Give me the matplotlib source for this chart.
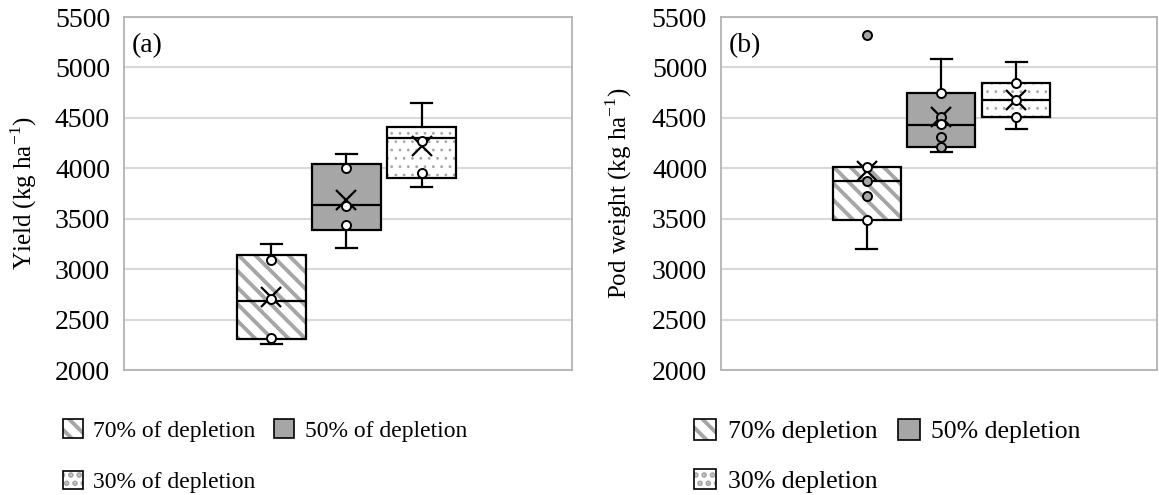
import matplotlib
matplotlib.use("Agg")
import matplotlib.pyplot as plt
from matplotlib.patches import Patch, PathPatch
from matplotlib.legend_handler import HandlerTuple

plt.rcParams['font.family'] = ['Liberation Serif', 'DejaVu Serif']
plt.rcParams['mathtext.fontset'] = 'custom'
plt.rcParams['mathtext.rm'] = 'Liberation Serif'
plt.rcParams['hatch.linewidth'] = 2.8

# irrigation treatments
labels_a = ['70% of depletion', '50% of depletion', '30% of depletion']
labels_b = ['70% depletion', '50% depletion', '30% depletion']

# (a) grain yield, kg/ha
yield_lo = [2259, 3210, 3817]
yield_q1 = [2308, 3392, 3906]
yield_med = [2689, 3634, 4297]
yield_q3 = [3137, 4045, 4413]
yield_hi = [3250, 4141, 4652]
yield_mean = [2729, 3690, 4220]
yield_points = [[3087, 2706, 2315], [4006, 3624, 3442], [4270, 3949]]
yield_outliers = [[], [], []]

# (b) pod weight, kg/ha
pod_lo = [3200, 4164, 4393]
pod_q1 = [3485, 4207, 4513]
pod_med = [3876, 4429, 4675]
pod_q3 = [4012, 4744, 4851]
pod_hi = [4012, 5082, 5059]
pod_mean = [3972, 4510, 4675]
pod_points = [[4012, 3876, 3723, 3492], [4744, 4513, 4436, 4310, 4210], [4851, 4680, 4513]]
pod_outliers = [[5321], [], []]

GREY = '#a6a6a6'
LW = 1.6
positions = [-1, 0, 1]
fills = ['white', GREY, 'white']
hatches = ['\\\\', None, '..']

# inner point face colours for (b); (a) uses white throughout
pod_point_faces = [['white', GREY, GREY, 'white'],
                   ['white', GREY, 'white', GREY, GREY],
                   ['white', 'white', 'white']]


def hatch_patch(path_or_none, hatch, **kw):
    # grey hatch layer; dots get a thin stroke, stripes a thick one
    if path_or_none is None:
        p = Patch(facecolor='white', edgecolor=GREY, lw=0, hatch=hatch, **kw)
    else:
        p = PathPatch(path_or_none, facecolor='none', edgecolor=GREY, lw=0, hatch=hatch, **kw)
    if hasattr(p, 'set_hatch_linewidth'):
        p.set_hatch_linewidth(2.8 if '\\' in hatch else 0.8)
    return p


def draw_panel(ax, lo, q1, med, q3, hi, mean, points, outliers, faces, ylabel, tag, xlim):
    stats = []
    for i in range(3):
        stats.append(dict(whislo=lo[i], q1=q1[i], med=med[i], q3=q3[i],
                          whishi=hi[i], mean=mean[i], fliers=outliers[i]))
    line = dict(color='black', lw=LW)
    bp = ax.bxp(stats, positions=positions, widths=0.91, patch_artist=True,
                showmeans=True, capwidths=0.28,
                boxprops=dict(facecolor='none', edgecolor='black', lw=LW),
                medianprops=line, whiskerprops=line, capprops=line,
                meanprops=dict(marker='x', markeredgecolor='black', markersize=14,
                               markeredgewidth=1.6),
                flierprops=dict(marker='o', markerfacecolor=GREY, markeredgecolor='black',
                                markersize=6.5, markeredgewidth=1.4),
                zorder=3)
    for i, box in enumerate(bp['boxes']):
        ax.add_patch(PathPatch(box.get_path(), facecolor=fills[i], edgecolor='none', zorder=2))
        if hatches[i]:
            ax.add_patch(hatch_patch(box.get_path(), hatches[i], zorder=2.5))
    for i, pts in enumerate(points):
        for j, v in enumerate(pts):
            ax.plot(positions[i], v, 'o', mfc=faces[i][j], mec='black', ms=6.5,
                    mew=1.4, zorder=4)

    ax.set_ylim(2000, 5500)
    ax.set_yticks(range(2000, 5501, 500))
    ax.set_xlim(*xlim)
    ax.set_xticks([])
    ax.yaxis.grid(True, color='#d9d9d9', lw=1.5)
    ax.set_axisbelow(True)
    for s in ax.spines.values():
        s.set_color('#b3b3b3')
        s.set_linewidth(1.3)
    ax.tick_params(axis='y', length=0, pad=10, labelsize=20)
    ax.set_ylabel(ylabel, fontsize=18)
    ax.text(0.018, 0.92, tag, transform=ax.transAxes, fontsize=20, va='center', ha='left')


def add_legend(ax, labels, x, y, size, spacing):
    h70 = (hatch_patch(None, '\\\\'), Patch(facecolor='none', edgecolor='black', lw=1.2))
    h50 = Patch(facecolor=GREY, edgecolor='black', lw=1.2)
    h30 = (hatch_patch(None, '..'), Patch(facecolor='none', edgecolor='black', lw=1.2))
    ax.legend([h70, h30, h50], [labels[0], labels[2], labels[1]],
              handler_map={tuple: HandlerTuple(ndivide=1, pad=0)},
              loc='upper left', bbox_to_anchor=(x, y), bbox_transform=ax.figure.transFigure,
              ncol=2, frameon=False, fontsize=size, handlelength=0.85, handleheight=0.85,
              handletextpad=0.45, columnspacing=0.8, labelspacing=spacing,
              borderpad=0, borderaxespad=0)


fig = plt.figure(figsize=(11.59, 4.95), dpi=100)
ax_a = fig.add_axes([0.107, 0.2525, 0.3865, 0.713])
ax_b = fig.add_axes([0.622, 0.2525, 0.376, 0.713])

draw_panel(ax_a, yield_lo, yield_q1, yield_med, yield_q3, yield_hi, yield_mean,
           yield_points, yield_outliers, [['white'] * len(p) for p in yield_points],
           'Yield (kg ha$^{\\mathregular{-1}}$)', '(a)', (-2.96, 3.0))
draw_panel(ax_b, pod_lo, pod_q1, pod_med, pod_q3, pod_hi, pod_mean,
           pod_points, pod_outliers, pod_point_faces,
           'Pod weight (kg ha$^{\\mathregular{-1}}$)', '(b)', (-2.95, 2.88))
ax_a.yaxis.set_label_coords(-0.19, 0.5)
ax_b.yaxis.set_label_coords(-0.20, 0.5)

add_legend(ax_a, labels_a, 0.054, 0.153, 17, 1.22)
add_legend(ax_b, labels_b, 0.599, 0.153, 18.5, 0.98)

fig.savefig('out.png', dpi=100)
